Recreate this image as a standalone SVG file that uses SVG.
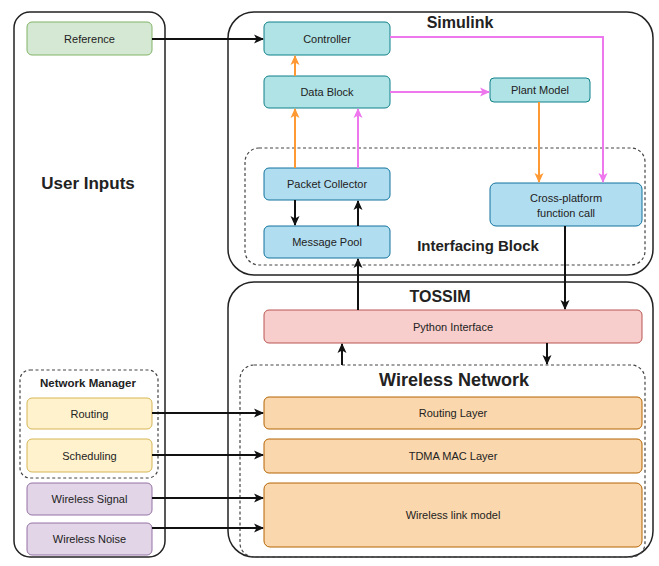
<svg xmlns="http://www.w3.org/2000/svg" width="659" height="566" viewBox="0 0 659 566">
<defs>
<style>
text{font-family:"Liberation Sans",Arial,sans-serif;fill:#222;text-anchor:middle;dominant-baseline:central}
.lbl{font-size:11px}
.big{font-weight:bold}
.cont{fill:#fff;stroke:#222;stroke-width:1.5}
.dash{fill:none;stroke:#444;stroke-width:1.2;stroke-dasharray:3 2.5}
.green{fill:#d5e8d4;stroke:#82b366}
.teal{fill:#b0e3e6;stroke:#0e8088}
.blue{fill:#b1ddf0;stroke:#10739e}
.yellow{fill:#fff2cc;stroke:#d6b656}
.purple{fill:#e1d5e7;stroke:#9673a6}
.orange{fill:#fad7ac;stroke:#b46504}
.pink{fill:#f8cecc;stroke:#b85450}
.k{stroke:#111;stroke-width:2;fill:none}
.o{stroke:#ff9933;stroke-width:2;fill:none}
.p{stroke:#ee77ee;stroke-width:2;fill:none}
</style>
<marker id="ak" markerWidth="10" markerHeight="10" refX="9" refY="5" orient="auto" markerUnits="userSpaceOnUse"><path d="M0,0.5 L10,5 L0,9.5 L2.5,5 Z" fill="#111"/></marker>
<marker id="ao" markerWidth="10" markerHeight="10" refX="9" refY="5" orient="auto" markerUnits="userSpaceOnUse"><path d="M0,0.5 L10,5 L0,9.5 L2.5,5 Z" fill="#ff9933"/></marker>
<marker id="ap" markerWidth="10" markerHeight="10" refX="9" refY="5" orient="auto" markerUnits="userSpaceOnUse"><path d="M0,0.5 L10,5 L0,9.5 L2.5,5 Z" fill="#ee77ee"/></marker>
</defs>

<g id="user-inputs">
<rect class="cont" x="14" y="12" width="151" height="545" rx="16"/>
<text class="big" x="88" y="183" font-size="17">User Inputs</text>
</g>
<g id="simulink">
<rect class="cont" x="228" y="12" width="425" height="263" rx="26"/>
<text class="big" x="460" y="22" font-size="16">Simulink</text>
</g>
<g id="interfacing-block">
<rect class="dash" x="245" y="148" width="400" height="117" rx="14"/>
<text class="big" x="478" y="245" font-size="15">Interfacing Block</text>
</g>
<g id="tossim">
<rect class="cont" x="228" y="282" width="425" height="275" rx="26"/>
<text class="big" x="440" y="296" font-size="16">TOSSIM</text>
</g>
<g id="wireless-network">
<rect class="dash" x="240" y="365" width="405" height="192" rx="14"/>
<text class="big" x="454" y="380" font-size="18">Wireless Network</text>
</g>
<g id="network-manager">
<rect class="dash" x="20" y="370" width="138" height="108" rx="10"/>
<text class="big" x="88" y="383" font-size="11.5">Network Manager</text>
</g>

<g id="reference"><rect class="green" x="27" y="22" width="125" height="33" rx="5"/><text class="lbl" x="89.5" y="39">Reference</text></g>
<g id="controller"><rect class="teal" x="264" y="22" width="126" height="33" rx="5"/><text class="lbl" x="327" y="39">Controller</text></g>
<g id="data-block"><rect class="teal" x="264" y="76" width="126" height="32" rx="5"/><text class="lbl" x="327" y="92">Data Block</text></g>
<g id="plant-model"><rect class="teal" x="490" y="78" width="100" height="24" rx="4"/><text class="lbl" x="540" y="90">Plant Model</text></g>
<g id="packet-collector"><rect class="blue" x="264" y="168" width="126" height="32" rx="5"/><text class="lbl" x="327" y="184">Packet Collector</text></g>
<g id="message-pool"><rect class="blue" x="264" y="226" width="126" height="32" rx="5"/><text class="lbl" x="327" y="242">Message Pool</text></g>
<g id="cross-platform"><rect class="blue" x="490" y="183" width="152" height="43" rx="6"/><text class="lbl" x="566" y="198">Cross-platform</text><text class="lbl" x="566" y="213">function call</text></g>
<g id="python-interface"><rect class="pink" x="264" y="310" width="378" height="33" rx="5"/><text class="lbl" x="453" y="326.5">Python Interface</text></g>
<g id="routing-layer"><rect class="orange" x="264" y="397" width="378" height="32" rx="5"/><text class="lbl" x="453" y="413">Routing Layer</text></g>
<g id="tdma-mac"><rect class="orange" x="264" y="439" width="378" height="34" rx="5"/><text class="lbl" x="453" y="456">TDMA MAC Layer</text></g>
<g id="wireless-link"><rect class="orange" x="264" y="483" width="378" height="64" rx="6"/><text class="lbl" x="453" y="515">Wireless link model</text></g>
<g id="routing"><rect class="yellow" x="27" y="398" width="125" height="31" rx="5"/><text class="lbl" x="89.5" y="413.5">Routing</text></g>
<g id="scheduling"><rect class="yellow" x="27" y="439" width="125" height="33" rx="5"/><text class="lbl" x="89.5" y="455.5">Scheduling</text></g>
<g id="wireless-signal"><rect class="purple" x="27" y="483" width="125" height="32" rx="5"/><text class="lbl" x="89.5" y="499">Wireless Signal</text></g>
<g id="wireless-noise"><rect class="purple" x="27" y="523" width="125" height="32" rx="5"/><text class="lbl" x="89.5" y="539">Wireless Noise</text></g>

<g id="connectors">
<path class="k" d="M152,39 H263" marker-end="url(#ak)"/>
<path class="o" d="M295,76 V56" marker-end="url(#ao)"/>
<path class="o" d="M295,168 V109" marker-end="url(#ao)"/>
<path class="p" d="M358,168 V109" marker-end="url(#ap)"/>
<path class="k" d="M295,200 V225" marker-end="url(#ak)"/>
<path class="k" d="M358,226 V201" marker-end="url(#ak)"/>
<path class="p" d="M390,37 H603 V182" marker-end="url(#ap)"/>
<path class="p" d="M390,92 H489" marker-end="url(#ap)"/>
<path class="o" d="M539,102 V182" marker-end="url(#ao)"/>
<path class="k" d="M565,226 V309" marker-end="url(#ak)"/>
<path class="k" d="M358,310 V259" marker-end="url(#ak)"/>
<path class="k" d="M342,365 V344" marker-end="url(#ak)"/>
<path class="k" d="M547,343 V364" marker-end="url(#ak)"/>
<path class="k" d="M152,413 H263" marker-end="url(#ak)"/>
<path class="k" d="M152,455 H263" marker-end="url(#ak)"/>
<path class="k" d="M152,498 H263" marker-end="url(#ak)"/>
<path class="k" d="M152,528 H263" marker-end="url(#ak)"/>
</g>
</svg>
